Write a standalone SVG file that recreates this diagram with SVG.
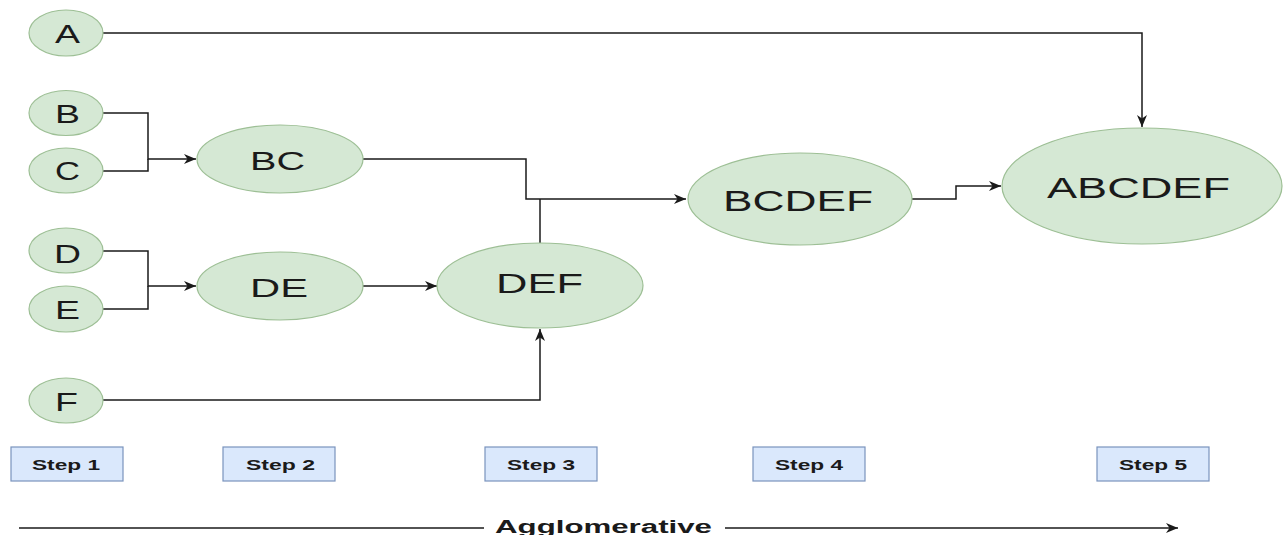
<svg xmlns="http://www.w3.org/2000/svg" width="1285" height="535" viewBox="0 0 1285 535">
<style>
.n{fill:#d5e8d4;stroke:#9dbf95;stroke-width:1.2}
.s{fill:#dae8fc;stroke:#7a93bd;stroke-width:1.2}
.t{font-family:"Liberation Sans",Arial,sans-serif;fill:#1a1a1a;text-anchor:start}
.b{font-weight:bold;font-size:15px}
.c{fill:none;stroke:#1a1a1a;stroke-width:1.5}
</style>
<defs>
<marker id="ah" viewBox="0 0 12 10" refX="12" refY="5" markerWidth="12" markerHeight="10" markerUnits="userSpaceOnUse" orient="auto">
<path d="M0,0 L12,5 L0,10 L3.5,5 z" fill="#1a1a1a"/>
</marker>
</defs>
<rect width="1285" height="535" fill="#ffffff"/>
<g id="connectors">
<path class="c" d="M103,33 H1142 V127" marker-end="url(#ah)"/>
<path class="c" d="M103,113 H148 V159 H196" marker-end="url(#ah)"/>
<path class="c" d="M103,171 H148 V159"/>
<path class="c" d="M103,251 H148 V286 H196" marker-end="url(#ah)"/>
<path class="c" d="M103,309 H148 V286"/>
<path class="c" d="M363,159 H526 V199 H686" marker-end="url(#ah)"/>
<path class="c" d="M540,243 V199"/>
<path class="c" d="M363,286 H437" marker-end="url(#ah)"/>
<path class="c" d="M103,400 H540 V329" marker-end="url(#ah)"/>
<path class="c" d="M912,199 H956 V186 H1001" marker-end="url(#ah)"/>
<path class="c" d="M19,528 H484"/>
<path class="c" d="M725,528 H1178" marker-end="url(#ah)"/>
</g>
<g id="A"><ellipse class="n" cx="66" cy="33" rx="37" ry="23"/><text class="t" x="55" y="43" font-size="25" textLength="25" lengthAdjust="spacingAndGlyphs">A</text></g>
<g id="B"><ellipse class="n" cx="66" cy="113" rx="37" ry="22.5"/><text class="t" x="55" y="123" font-size="25" textLength="25" lengthAdjust="spacingAndGlyphs">B</text></g>
<g id="C"><ellipse class="n" cx="66" cy="170.5" rx="37" ry="22.5"/><text class="t" x="55" y="180" font-size="25" textLength="25" lengthAdjust="spacingAndGlyphs">C</text></g>
<g id="D"><ellipse class="n" cx="66" cy="250.5" rx="37" ry="22.5"/><text class="t" x="54" y="263" font-size="25" textLength="27" lengthAdjust="spacingAndGlyphs">D</text></g>
<g id="E"><ellipse class="n" cx="66" cy="309" rx="37" ry="23"/><text class="t" x="55" y="319" font-size="25" textLength="25" lengthAdjust="spacingAndGlyphs">E</text></g>
<g id="F"><ellipse class="n" cx="66" cy="400.5" rx="37" ry="22.5"/><text class="t" x="55" y="411" font-size="25" textLength="23" lengthAdjust="spacingAndGlyphs">F</text></g>
<g id="BC"><ellipse class="n" cx="280" cy="159" rx="83" ry="34"/><text class="t" x="250" y="170" font-size="25" textLength="55" lengthAdjust="spacingAndGlyphs">BC</text></g>
<g id="DE"><ellipse class="n" cx="280" cy="286" rx="83" ry="34"/><text class="t" x="250" y="297" font-size="25" textLength="58" lengthAdjust="spacingAndGlyphs">DE</text></g>
<g id="DEF"><ellipse class="n" cx="540" cy="285.5" rx="103" ry="42.5"/><text class="t" x="496" y="293" font-size="28" textLength="87" lengthAdjust="spacingAndGlyphs">DEF</text></g>
<g id="BCDEF"><ellipse class="n" cx="800" cy="199" rx="112" ry="46"/><text class="t" x="723" y="211" font-size="29" textLength="150" lengthAdjust="spacingAndGlyphs">BCDEF</text></g>
<g id="ABCDEF"><ellipse class="n" cx="1142" cy="186" rx="140" ry="58"/><text class="t" x="1047" y="198" font-size="29" textLength="183" lengthAdjust="spacingAndGlyphs">ABCDEF</text></g>
<g id="step1"><rect class="s" x="11" y="447" width="112" height="34"/><text class="t b" x="32" y="470" textLength="68" lengthAdjust="spacingAndGlyphs">Step 1</text></g>
<g id="step2"><rect class="s" x="223" y="447" width="112" height="34"/><text class="t b" x="246" y="470" textLength="69" lengthAdjust="spacingAndGlyphs">Step 2</text></g>
<g id="step3"><rect class="s" x="485" y="447" width="112" height="34"/><text class="t b" x="507" y="470" textLength="68" lengthAdjust="spacingAndGlyphs">Step 3</text></g>
<g id="step4"><rect class="s" x="753" y="447" width="112" height="34"/><text class="t b" x="775" y="470" textLength="68" lengthAdjust="spacingAndGlyphs">Step 4</text></g>
<g id="step5"><rect class="s" x="1097" y="447" width="112" height="34"/><text class="t b" x="1119" y="470" textLength="68" lengthAdjust="spacingAndGlyphs">Step 5</text></g>
<g id="agglomerative"><text class="t" x="495" y="533" font-size="18" font-weight="bold" textLength="217" lengthAdjust="spacingAndGlyphs">Agglomerative</text></g>
</svg>
